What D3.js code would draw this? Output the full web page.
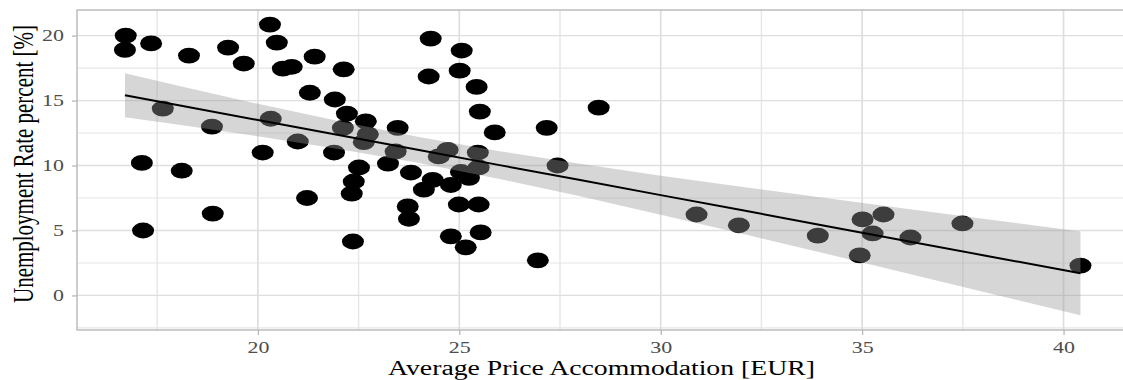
<!DOCTYPE html>
<html>
<head>
<meta charset="utf-8">
<script src="https://cdn.jsdelivr.net/npm/d3@7"></script>
<style>
  body { margin: 0; background: #ffffff; }
  svg { display: block; }
</style>
</head>
<body>
<svg id="chart" width="1123" height="380"></svg>
<script>
// Average accommodation price (EUR) and unemployment rate (%) per region
const priceEUR = [
  16.72, 16.70, 17.35, 18.29, 19.26, 19.65, 20.30, 20.47, 20.62, 20.84,
  21.41, 21.29, 17.64, 18.86, 20.32, 20.99, 20.12, 17.12, 18.11, 21.22,
  18.88, 17.15, 22.36, 22.13, 21.91, 22.21, 22.68, 23.47, 24.29, 25.06,
  24.24, 25.01, 25.43, 25.51, 25.88, 22.11, 22.73, 22.63, 23.42, 24.71,
  25.46, 21.89, 22.51, 22.38, 22.33, 23.23, 23.80, 24.34, 24.12, 24.79,
  25.04, 25.24, 25.48, 23.72, 23.75, 24.99, 25.48, 24.79, 25.16, 25.53,
  24.49, 27.44, 27.17, 28.46, 26.95, 30.89, 31.94, 33.90, 35.01, 35.53,
  35.26, 34.94, 36.20, 37.49, 40.42
];
const unemploymentPct = [
  20.00, 18.90, 19.40, 18.46, 19.08, 17.85, 20.85, 19.46, 17.46, 17.60,
  18.38, 15.60, 14.38, 13.00, 13.60, 11.85, 11.00, 10.20, 9.60, 7.50,
  6.30, 5.00, 4.15, 17.40, 15.08, 14.00, 13.40, 12.90, 19.77, 18.85,
  16.85, 17.30, 16.05, 14.15, 12.55, 12.90, 12.40, 11.80, 11.08, 11.20,
  11.00, 11.00, 9.85, 8.77, 7.83, 10.15, 9.46, 8.90, 8.15, 8.50,
  9.50, 9.05, 9.85, 6.85, 5.90, 7.00, 7.00, 4.55, 3.70, 4.85,
  10.70, 10.00, 12.90, 14.46, 2.70, 6.23, 5.40, 4.60, 5.85, 6.23,
  4.77, 3.08, 4.46, 5.54, 2.30
];

// Linear trend with its confidence band
const smoothX     = [16.7, 18, 20, 22, 24, 26, 28, 30, 32, 34, 36, 38, 40.42];
const smoothFit   = [15.41, 14.66, 13.50, 12.35, 11.19, 10.03, 8.88, 7.72, 6.57, 5.41, 4.25, 3.10, 1.70];
const smoothLower = [13.72, 13.16, 12.25, 11.28, 10.19, 8.96, 7.63, 6.22, 4.77, 3.29, 1.79, 0.29, -1.53];
const smoothUpper = [17.10, 16.16, 14.75, 13.42, 12.19, 11.10, 10.13, 9.22, 8.37, 7.53, 6.71, 5.91, 4.93];

const xTicks = [20, 25, 30, 35, 40];
const xMinor = [17.5, 22.5, 27.5, 32.5, 37.5];
const yTicks = [0, 5, 10, 15, 20];
const yMinor = [-2.5, 2.5, 7.5, 12.5, 17.5];

const xTitle = "Average Price Accommodation [EUR]";
const yTitle = "Unemployment Rate percent [%]";

const svg = d3.select("#chart");
const panel = { left: 77, top: 10, right: 1128, bottom: 330 };
const stretch = 1.37; // horizontal glyph widening used across the figure
const serif = "'Liberation Serif', 'Times New Roman', serif";

const x = d3.scaleLinear().domain([15.51, 41.6]).range([panel.left, panel.right]);
const y = d3.scaleLinear().domain([-2.66, 21.97]).range([panel.bottom, panel.top]);

// panel grid
const grid = svg.append("g");
grid.selectAll("line.vmin").data(xMinor).join("line")
  .attr("x1", d => x(d)).attr("x2", d => x(d))
  .attr("y1", panel.top).attr("y2", panel.bottom)
  .attr("stroke", "#e6e6e6").attr("stroke-width", 1.4);
grid.selectAll("line.hmin").data(yMinor).join("line")
  .attr("y1", d => y(d)).attr("y2", d => y(d))
  .attr("x1", panel.left).attr("x2", panel.right)
  .attr("stroke", "#e6e6e6").attr("stroke-width", 1.1);
grid.selectAll("line.vmaj").data(xTicks).join("line")
  .attr("x1", d => x(d)).attr("x2", d => x(d))
  .attr("y1", panel.top).attr("y2", panel.bottom)
  .attr("stroke", "#dedede").attr("stroke-width", 1.7);
grid.selectAll("line.hmaj").data(yTicks).join("line")
  .attr("y1", d => y(d)).attr("y2", d => y(d))
  .attr("x1", panel.left).attr("x2", panel.right)
  .attr("stroke", "#dedede").attr("stroke-width", 1.3);

// points
const pts = priceEUR.map((p, i) => ({ p, u: unemploymentPct[i] }));
svg.append("g").selectAll("ellipse").data(pts).join("ellipse")
  .attr("cx", d => x(d.p)).attr("cy", d => y(d.u))
  .attr("rx", 11).attr("ry", 7.9)
  .attr("fill", "#000000");

// confidence band and trend line
const band = smoothX.map((v, i) => ({ v, lo: smoothLower[i], hi: smoothUpper[i], fit: smoothFit[i] }));
svg.append("path").datum(band)
  .attr("d", d3.area().x(d => x(d.v)).y0(d => y(d.lo)).y1(d => y(d.hi)))
  .attr("fill", "#999999").attr("fill-opacity", 0.4);
svg.append("path").datum(band)
  .attr("d", d3.line().x(d => x(d.v)).y(d => y(d.fit)))
  .attr("fill", "none").attr("stroke", "#000000").attr("stroke-width", 2);

// panel border
svg.append("rect")
  .attr("x", panel.left).attr("y", panel.top)
  .attr("width", panel.right - panel.left).attr("height", panel.bottom - panel.top)
  .attr("fill", "none").attr("stroke", "#b3b3b3").attr("stroke-width", 1.3);

// axes
const xAxis = svg.append("g").attr("transform", `translate(0,${panel.bottom})`)
  .call(d3.axisBottom(x).tickValues(xTicks).tickSize(5).tickPadding(7).tickFormat(d3.format("d")));
const yAxis = svg.append("g").attr("transform", `translate(${panel.left},0)`)
  .call(d3.axisLeft(y).tickValues(yTicks).tickSize(5).tickPadding(8).tickFormat(d3.format("d")));
[xAxis, yAxis].forEach(ax => {
  ax.select(".domain").remove();
  ax.selectAll(".tick line").attr("stroke", "#b3b3b3").attr("stroke-width", 1.2);
  ax.selectAll(".tick text")
    .attr("fill", "#4d4d4d")
    .style("font-family", serif).style("font-size", "16px")
    .each(function () {
      const w = this.getComputedTextLength();
      d3.select(this).attr("textLength", w * stretch).attr("lengthAdjust", "spacingAndGlyphs");
    });
});

// axis titles
svg.append("text")
  .attr("x", (panel.left + panel.right) / 2 - 1).attr("y", 375)
  .attr("text-anchor", "middle")
  .attr("textLength", 427).attr("lengthAdjust", "spacingAndGlyphs")
  .style("font-family", serif).style("font-size", "20px").attr("fill", "#000000")
  .text(xTitle);

svg.append("text")
  .attr("transform", `translate(33,164) scale(${stretch},1) rotate(-90)`)
  .attr("text-anchor", "middle")
  .style("font-family", serif).style("font-size", "21px").attr("fill", "#000000")
  .text(yTitle);
</script>
</body>
</html>
